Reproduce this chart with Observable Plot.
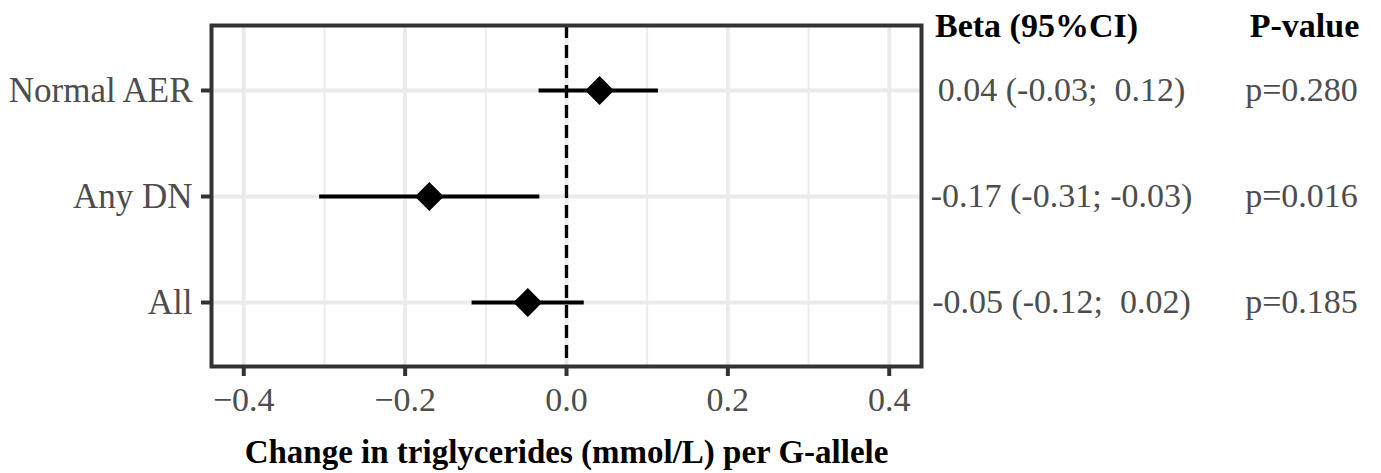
<!DOCTYPE html>
<html>
<head>
<meta charset="utf-8">
<script src="https://cdn.jsdelivr.net/npm/d3@7"></script>
<script src="https://cdn.jsdelivr.net/npm/@observablehq/plot@0.6"></script>
<style>
  html, body { margin: 0; padding: 0; background: #fff; }
  svg { display: block; }
</style>
</head>
<body>
<div id="chart"></div>
<script>
const categories = ["Normal AER", "Any DN", "All"];
const beta = [0.041, -0.170, -0.048];
const ciLow = [-0.034, -0.306, -0.117];
const ciHigh = [0.114, -0.033, 0.022];
const ciLabels = ["0.04 (-0.03;\u00a0 0.12)", "-0.17 (-0.31; -0.03)", "-0.05 (-0.12;\u00a0 0.02)"];
const pLabels = ["p=0.280", "p=0.016", "p=0.185"];
const majorTicks = [-0.4, -0.2, 0.0, 0.2, 0.4];
const minorTicks = [-0.3, -0.1, 0.1, 0.3];
const xTitle = "Change in triglycerides (mmol/L) per G-allele";
const headers = ["Beta (95%CI)", "P-value"];

const rows = categories.map((c, i) => ({cat: c, beta: beta[i], lo: ciLow[i], hi: ciHigh[i], ci: ciLabels[i], p: pLabels[i]}));

const serif = "'Liberation Serif', 'Times New Roman', serif";

const chart = Plot.plot({
  width: 1381,
  height: 473,
  marginLeft: 211,
  marginRight: 460,
  marginTop: 25,
  marginBottom: 107,
  style: {fontFamily: serif, background: "#fff", overflow: "visible"},
  x: {domain: [-0.44, 0.44]},
  y: {type: "point", domain: categories, padding: 0.6},
  marks: [
    Plot.gridX(minorTicks, {stroke: "#ebebeb", strokeOpacity: 1, strokeWidth: 2}),
    Plot.gridX(majorTicks, {stroke: "#ebebeb", strokeOpacity: 1, strokeWidth: 3.8}),
    Plot.gridY(categories, {stroke: "#ebebeb", strokeOpacity: 1, strokeWidth: 3.8}),
    Plot.ruleX([0], {stroke: "#000", strokeWidth: 3.3, strokeDasharray: "13,7"}),
    Plot.ruleY(rows, {y: "cat", x1: "lo", x2: "hi", stroke: "#000", strokeWidth: 4}),
    Plot.dot(rows, {x: "beta", y: "cat", symbol: "diamond2", r: 13, fill: "#000", stroke: "none"}),
    Plot.frame({stroke: "#333", strokeWidth: 4}),
    Plot.axisX(majorTicks, {tickSize: 10, tickPadding: 10, fontSize: 34, fill: "#4d4d4d", stroke: "#333", strokeWidth: 4, tickFormat: d3.format(".1f"), label: null}),
    Plot.axisY(categories, {tickSize: 10, tickPadding: 9, fontSize: 35, fill: "#4d4d4d", stroke: "#333", strokeWidth: 4, label: null}),
    Plot.text(rows, {y: "cat", text: "ci", frameAnchor: "right", dx: 140, textAnchor: "middle", lineAnchor: "middle", fontSize: 34, fill: "#4d4d4d"}),
    Plot.text(rows, {y: "cat", text: "p", frameAnchor: "right", dx: 380, textAnchor: "middle", lineAnchor: "middle", fontSize: 34, fill: "#4d4d4d"}),
    Plot.text([headers[0]], {text: d => d, frameAnchor: "top-right", dx: 115, dy: 1, textAnchor: "middle", lineAnchor: "middle", fontSize: 34, fontWeight: "bold", fill: "#000"}),
    Plot.text([headers[1]], {text: d => d, frameAnchor: "top-right", dx: 383, dy: 1, textAnchor: "middle", lineAnchor: "middle", fontSize: 34, fontWeight: "bold", fill: "#000"}),
    Plot.text([xTitle], {text: d => d, frameAnchor: "bottom", dy: 86, textAnchor: "middle", lineAnchor: "middle", fontSize: 33, fontWeight: "bold", fill: "#000"})
  ]
});
document.getElementById("chart").appendChild(chart);
</script>
</body>
</html>
